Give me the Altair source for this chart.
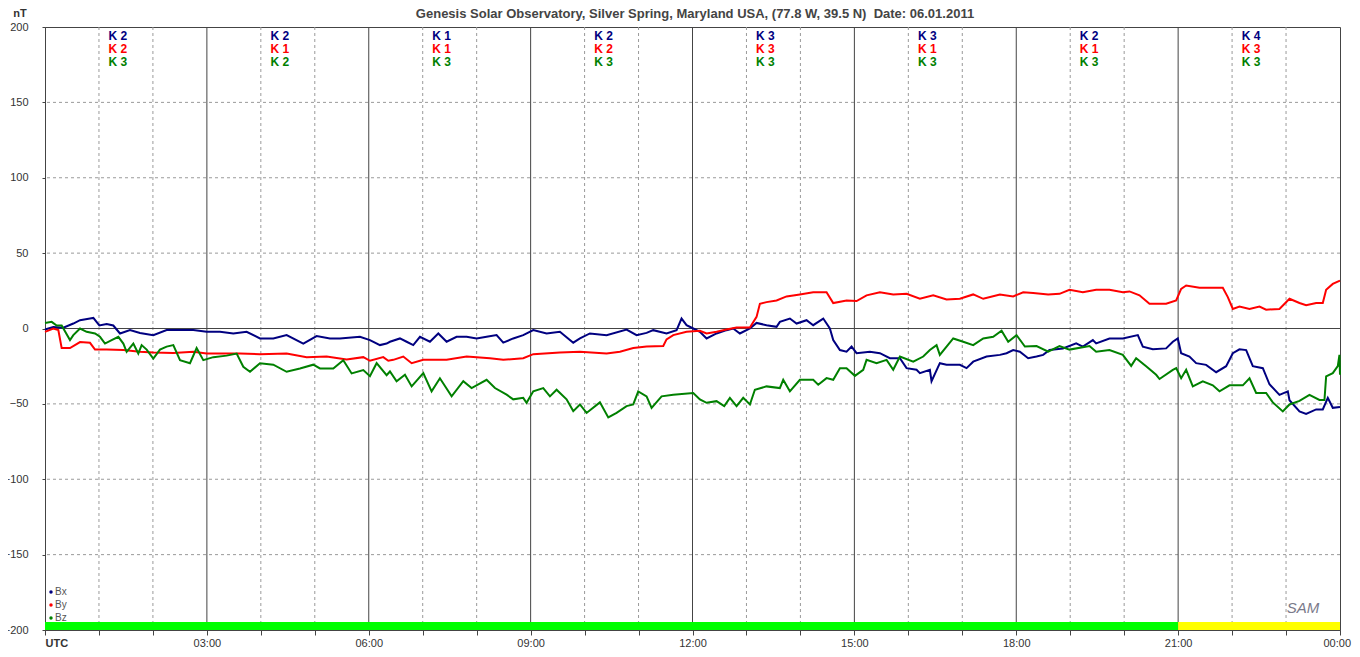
import altair as alt
import pandas as pd

# ---------------- data ----------------
bx_h = [0, 0.154, 0.34, 0.525, 0.649, 0.834, 0.896, 1.007, 1.143, 1.266, 1.39, 1.575, 1.76, 2.007, 2.254, 2.502, 2.749, 2.996,
        3.243, 3.49, 3.737, 3.984, 4.231, 4.478, 4.787, 5.034, 5.281, 5.466, 5.837, 6.022, 6.208, 6.331, 6.393, 6.578, 6.702,
        6.825, 6.949, 7.134, 7.289, 7.443, 7.628, 7.814, 7.999, 8.184, 8.369, 8.493, 8.678, 8.863, 9.049, 9.296, 9.543, 9.79,
        9.914, 10.099, 10.408, 10.778, 10.964, 11.149, 11.272, 11.519, 11.705, 11.797, 11.89, 12.014, 12.137, 12.261, 12.446,
        12.631, 12.755, 12.878, 13.064, 13.187, 13.372, 13.558, 13.619, 13.805, 13.929, 14.114, 14.237, 14.423, 14.546, 14.608,
        14.732, 14.855, 14.948, 15.041, 15.288, 15.473, 15.658, 15.844, 15.967, 16.152, 16.214, 16.399, 16.43, 16.584, 16.708,
        16.955, 17.079, 17.202, 17.45, 17.697, 17.82, 17.943, 18.067, 18.221, 18.376, 18.499, 18.616, 18.864, 19.111, 19.234,
        19.42, 19.481, 19.728, 19.975, 20.253, 20.346, 20.531, 20.778, 20.902, 20.994, 21.056, 21.21, 21.334, 21.519, 21.705,
        21.89, 22.014, 22.137, 22.261, 22.384, 22.57, 22.693, 22.878, 23.033, 23.064, 23.249, 23.372, 23.558, 23.681, 23.774,
        23.866, 24.0]
bx_v = [-0.7, 1, 0.5, 3.3, 5.5, 6.6, 7, 2, 3, 2, -3.3, -1, -3, -4.4, -1, -1, -1, -2.2,
        -2.2, -3.3, -2.2, -6.6, -6.6, -4.4, -10, -5, -6.6, -6.6, -5.5, -7.7, -11, -10, -8.8, -6.6, -8.8,
        -11, -5.5, -8.8, -3.3, -8.8, -5.5, -5.5, -6.6, -5.5, -4.4, -9.4, -6.6, -4.4, -1, -3.3, -2.2, -9.4,
        -6.6, -3.3, -4.4, -0.7, -4.4, -2.9, -1.1, -3.3, -1.1, 6.6, 2.2, 0, -2.2, -6.6, -3.3,
        -1.1, 0, -3.3, 0, 3.7, 2.2, 1.1, 4.4, 6.6, 3.3, 5.5, 2.2, 6.6, 0, -7.7,
        -14.3, -15.4, -12, -16.4, -15.4, -16.4, -19.7, -19.7, -26.3, -27.4, -29.6, -27.4, -35, -23, -24.1,
        -24.1, -26.3, -22, -18.6, -17.5, -16.4, -14.3, -15.4, -19.7, -18.6, -17.5, -14.3, -13.2, -9.9, -12,
        -7.7, -9.9, -6.6, -6.6, -4.4, -12, -13.8, -13.2, -8.8, -6.6, -16.4, -18.6, -23, -24.1, -29,
        -25, -16.4, -13.8, -14.3, -25, -26.3, -37, -44, -41.7, -47.6, -55, -56.6, -53.7, -53.7, -46,
        -52.6, -52]

by_h = [0, 0.154, 0.247, 0.309, 0.463, 0.649, 0.834, 0.927, 1.143, 1.452, 1.76, 2.007, 2.378, 2.749, 2.996, 3.243, 3.613,
        3.984, 4.478, 4.849, 5.219, 5.59, 5.899, 6.022, 6.269, 6.362, 6.455, 6.64, 6.795, 7.011, 7.443, 7.814, 8.246, 8.493,
        8.863, 9.049, 9.543, 9.914, 10.408, 10.655, 10.902, 11.149, 11.458, 11.519, 11.643, 11.89, 12.137, 12.261, 12.446,
        12.631, 12.817, 13.064, 13.187, 13.249, 13.372, 13.558, 13.743, 13.99, 14.237, 14.484, 14.608, 14.855, 15.041, 15.226,
        15.473, 15.72, 15.967, 16.214, 16.461, 16.708, 16.955, 17.202, 17.388, 17.697, 17.943, 18.129, 18.314, 18.592, 18.802,
        18.987, 19.234, 19.481, 19.728, 19.975, 20.099, 20.284, 20.469, 20.778, 20.964, 21.056, 21.149, 21.396, 21.828, 21.921,
        22.014, 22.137, 22.323, 22.508, 22.631, 22.878, 23.064, 23.249, 23.372, 23.558, 23.681, 23.743, 23.866, 24.0]
by_v = [-2.2, 0, -1, -13, -13, -9, -9.5, -14, -14, -14.3, -15.5, -16, -16.3, -15.5, -16.6, -16.6, -16.6,
        -17, -16.6, -19, -18.6, -20.5, -19, -21.4, -19, -21.4, -20.8, -18.6, -23, -20.8, -20.8, -18.6, -19.7, -20.8,
        -19.7, -17, -16, -15.4, -16.5, -15.4, -13, -12, -11.6, -7.2, -4.4, -2.2, -1.5, -3.3, -2.2,
        -0.7, 0.7, 0.7, 7.7, 16.4, 17.5, 18.6, 21.3, 22.6, 24, 24, 16.9, 18.6, 18.2, 22,
        24, 22.6, 23, 19.7, 22, 19.3, 19.7, 22.6, 19.7, 22.6, 21.3, 24, 23.5, 22.6, 23,
        25.7, 24, 25.7, 25.7, 24, 24.6, 22, 16.4, 16.4, 18.6, 26.3, 28.5, 27, 27, 20.8,
        13, 14.5, 13, 14.5, 12.5, 13, 19.7, 16.9, 15.4, 16.9, 16.9, 25.7, 29.6, 31.8]

bz_h = [0, 0.124, 0.216, 0.309, 0.463, 0.525, 0.649, 0.772, 0.927, 1.019, 1.112, 1.235, 1.359, 1.452, 1.513, 1.637, 1.729,
        1.791, 1.884, 2.007, 2.131, 2.254, 2.378, 2.502, 2.687, 2.81, 2.934, 3.119, 3.366, 3.552, 3.675, 3.799, 3.984, 4.231,
        4.478, 4.725, 4.972, 5.096, 5.343, 5.528, 5.683, 5.899, 6.022, 6.146, 6.331, 6.393, 6.516, 6.671, 6.795, 7.011, 7.165,
        7.319, 7.536, 7.752, 7.906, 8.184, 8.339, 8.555, 8.678, 8.863, 8.925, 9.049, 9.234, 9.358, 9.481, 9.666, 9.79, 9.914,
        10.037, 10.284, 10.439, 10.593, 10.778, 10.902, 10.994, 11.149, 11.242, 11.427, 11.643, 12.014, 12.137, 12.261, 12.446,
        12.588, 12.693, 12.817, 12.94, 13.064, 13.156, 13.372, 13.619, 13.681, 13.805, 13.99, 14.237, 14.33, 14.484, 14.608,
        14.732, 14.855, 15.01, 15.164, 15.226, 15.411, 15.597, 15.72, 15.844, 16.091, 16.276, 16.399, 16.523, 16.584, 16.832,
        17.017, 17.202, 17.388, 17.573, 17.728, 17.851, 18.005, 18.16, 18.376, 18.592, 18.802, 18.987, 19.358, 19.481, 19.728,
        19.975, 20.13, 20.222, 20.407, 20.593, 20.655, 20.902, 20.964, 21.056, 21.149, 21.272, 21.457, 21.643, 21.767, 21.952,
        22.199, 22.323, 22.446, 22.631, 22.755, 22.94, 23.064, 23.249, 23.434, 23.619, 23.712, 23.743, 23.866, 23.959, 23.99,
        24.0]
bz_v = [3.7, 4.4, 2, 2, -7.7, -4.4, 0, -2.2, -3.3, -5.5, -10, -7.7, -5.5, -10, -15.5, -10, -16.6,
        -11, -14, -20, -14, -12, -11, -21, -23, -13, -21, -19, -18, -16.6, -25.4, -28.7, -23, -24,
        -28.7, -26.5, -24, -26.5, -26.5, -21, -29.8, -27.6, -31.6, -23, -31, -28.5, -35, -30.7, -38.4, -29.6, -41.7,
        -33, -45, -35, -39.5, -34, -39.5, -43.9, -47, -46, -49.3, -41.7, -39.5, -45, -40.6, -47, -54.8, -50.4,
        -56, -49, -59, -56, -51.5, -50.4, -41.7, -45, -52.6, -45, -44, -42.8, -47, -49.3, -48.2,
        -51.5, -46, -51.5, -46, -50.4, -40.6, -38.4, -39.5, -34, -41.7, -34, -34, -37.3, -32.9, -34,
        -26.3, -26.3, -31.4, -27.4, -20.8, -23, -20.8, -27.4, -18.6, -22, -18.6, -14.3, -11, -17.5, -6.6,
        -8.8, -11, -6.6, -5.5, -1.5, -8.8, -4.4, -12, -11.6, -15.4, -11.6, -14, -11.6, -15.4, -14.3,
        -17.5, -24.8, -19.7, -25, -30.7, -33.5, -27.4, -26.3, -33, -27.4, -38.4, -35, -37.7, -41.7, -37.7,
        -37.7, -33, -42.8, -42.8, -49, -55, -50.4, -48, -44, -47.4, -47.4, -31.8, -29.6, -25, -17.5,
        -30.7]

series_names = ["Bx", "By", "Bz"]
series_colors = ["#000080", "#ff0000", "#008000"]

k_bx = [2, 2, 1, 2, 3, 3, 2, 4]
k_by = [2, 1, 1, 2, 3, 1, 1, 3]
k_bz = [3, 2, 3, 3, 3, 3, 3, 3]

y_ticks = [-200, -150, -100, -50, 0, 50, 100, 150, 200]
hours = list(range(0, 25))
end_label = "00:00"

bar_start = [0, 21]
bar_end = [21, 24]
bar_colors = ["#00ff00", "#ffff00"]

title_text = "Genesis Solar Observatory, Silver Spring, Maryland USA, (77.8 W, 39.5 N)\u00a0 Date: 06.01.2011"

# ---------------- scales / axes ----------------
xs = alt.Scale(domain=[0, 24], nice=False, zero=False)
ys = alt.Scale(domain=[-200, 200], nice=False)

x_axis = alt.Axis(
    values=hours, title=None, grid=False, tickSize=5, tickColor="#444", domainColor="#444",
    labelExpr="datum.value == 0 ? 'UTC' : ((datum.value % 3 == 0 && datum.value < 24) ? (datum.value < 10 ? '0' : '') + datum.value + ':00' : '')",
    labelFont="Liberation Sans", labelFontSize=11, labelColor="#333", labelPadding=2,
    labelFlush=False, labelOverlap=False,
    labelFontWeight={"condition": {"test": "datum.value == 0", "value": "bold"}, "value": "normal"},
    labelAlign={"condition": {"test": "datum.value == 0", "value": "left"}, "value": "center"},
)
y_axis = alt.Axis(
    values=y_ticks, title=None, grid=False, tickSize=3, tickColor="#444", domainColor="#444",
    labelFont="Liberation Sans", labelFontSize=11, labelColor="#333", labelPadding=14,
    labelOverlap=False, labelFlush=False,
)

X = alt.X("h:Q", scale=xs, axis=x_axis)
Y = alt.Y("v:Q", scale=ys, axis=y_axis)

# ---------------- layers ----------------
layers = []

hgrid_df = pd.DataFrame({"v": [t for t in y_ticks if t not in (0, 200, -200)]})
layers.append(alt.Chart(hgrid_df).mark_rule(color="#9a9a9a", strokeDash=[3, 3], strokeWidth=1).encode(y=Y))

vdash_df = pd.DataFrame({"h": [h for h in hours if h % 3 != 0]})
layers.append(alt.Chart(vdash_df).mark_rule(color="#9a9a9a", strokeDash=[3, 3], strokeWidth=1).encode(x=X))

vsolid_df = pd.DataFrame({"h": [h for h in hours if h % 3 == 0 and 0 < h < 24]})
layers.append(alt.Chart(vsolid_df).mark_rule(color="#444", strokeWidth=1).encode(x=X))

zero_df = pd.DataFrame({"v": [0]})
layers.append(alt.Chart(zero_df).mark_rule(color="#444", strokeWidth=1).encode(y=Y))

for s, e, c in zip(bar_start, bar_end, bar_colors):
    bdf = pd.DataFrame({"h": [s], "h2": [e], "v": [-200], "v2": [-194.7]})
    layers.append(alt.Chart(bdf).mark_rect(color=c).encode(x=X, x2="h2:Q", y=Y, y2="v2:Q"))

for name, hh, vv, col in zip(series_names, [bx_h, by_h, bz_h], [bx_v, by_v, bz_v], series_colors):
    ldf = pd.DataFrame({"h": hh, "v": vv})
    layers.append(alt.Chart(ldf).mark_line(strokeWidth=2, color=col).encode(x=X, y=Y))

k_rows_y = [9, 22, 35]
for kl, col, ypix in zip([k_bx, k_by, k_bz], series_colors, k_rows_y):
    kdf = pd.DataFrame({"h": [i * 3 + 1.5 for i in range(8)], "t": [f"K {k}" for k in kl]})
    layers.append(alt.Chart(kdf).mark_text(
        font="Liberation Sans", fontSize=12, fontWeight="bold", align="center", baseline="middle",
        dx=-8, color=col
    ).encode(x=X, y=alt.value(ypix), text="t:N"))

leg_y = [565, 578, 591]
for name, col, ypix in zip(series_names, series_colors, leg_y):
    ldf = pd.DataFrame({"t": [name]})
    layers.append(alt.Chart(ldf).mark_point(filled=True, size=12, shape="circle", opacity=1, color=col).encode(
        x=alt.value(6), y=alt.value(ypix)))
    layers.append(alt.Chart(ldf).mark_text(
        font="Liberation Sans", fontSize=10, color="#555", align="left", baseline="middle"
    ).encode(x=alt.value(10), y=alt.value(ypix), text="t:N"))

# last x label drawn separately so it can sit just inside the page edge
end_df = pd.DataFrame({"h": [24], "t": [end_label]})
layers.append(alt.Chart(end_df).mark_text(
    font="Liberation Sans", fontSize=11, color="#333", align="right", baseline="middle", dx=11
).encode(x=X, y=alt.value(617), text="t:N"))

annot_df = pd.DataFrame({"t": [title_text]})
layers.append(alt.Chart(annot_df).mark_text(
    font="Liberation Sans", fontSize=13, fontWeight="bold", color="#444", align="center", baseline="middle"
).encode(x=alt.value(650), y=alt.value(-13), text="t:N"))

nt_df = pd.DataFrame({"t": ["nT"]})
layers.append(alt.Chart(nt_df).mark_text(
    font="Liberation Sans", fontSize=11, fontWeight="bold", color="#333", align="center", baseline="middle"
).encode(x=alt.value(-25), y=alt.value(-13), text="t:N"))

sam_df = pd.DataFrame({"t": ["SAM"]})
layers.append(alt.Chart(sam_df).mark_text(
    font="Liberation Sans", fontSize=15, fontStyle="italic", color="#7a7a8a", align="center", baseline="middle"
).encode(x=alt.value(1258), y=alt.value(581), text="t:N"))

chart = alt.layer(*layers).properties(
    width=1295, height=603,
    autosize=alt.AutoSizeParams(type="none"),
    padding={"left": 37, "top": 19, "right": 12, "bottom": 19},
    background="white",
).configure_view(stroke="#444", strokeWidth=1)

chart.save("out.html", embed_options={"renderer": "svg", "actions": False})
